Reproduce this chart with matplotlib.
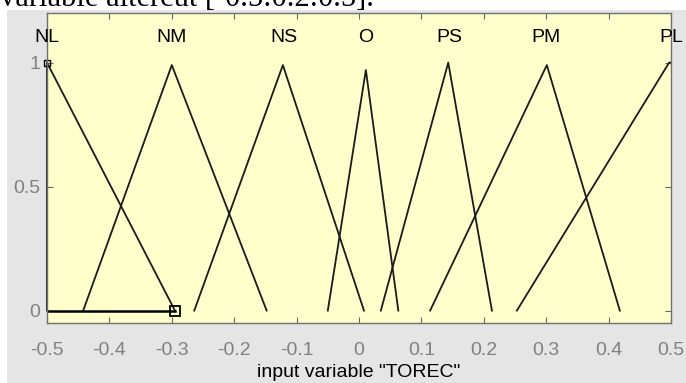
import matplotlib.pyplot as plt
from matplotlib.patches import Rectangle

# membership functions of input variable "TOREC" (triangles)
mf_names = ['NL', 'NM', 'NS', 'O', 'PS', 'PM', 'PL']
mf_x = [
    [-0.5, -0.5, -0.295],
    [-0.442, -0.300, -0.148],
    [-0.264, -0.122, 0.008],
    [-0.050, 0.011, 0.063],
    [0.035, 0.143, 0.213],
    [0.114, 0.301, 0.418],
    [0.253, 0.497, 0.5],
]
mf_y = [
    [0, 1, 0],
    [0, 0.99, 0],
    [0, 0.99, 0],
    [0, 0.97, 0],
    [0, 1, 0],
    [0, 0.99, 0],
    [0, 1, 1],
]
# peak positions used for the labels above the curves
label_x = [-0.5, -0.3, -0.12, 0.01, 0.145, 0.3, 0.5]

x_ticks = [-0.5, -0.4, -0.3, -0.2, -0.1, 0, 0.1, 0.2, 0.3, 0.4, 0.5]
x_ticklabels = ['-0.5', '-0.4', '-0.3', '-0.2', '-0.1', '0', '0.1', '0.2', '0.3', '0.4', '0.5']
y_ticks = [0, 0.5, 1]
y_ticklabels = ['0', '0.5', '1']

plt.rcParams['font.family'] = ['Liberation Sans', 'DejaVu Sans']

fig = plt.figure(figsize=(6.86, 3.83), dpi=100)
fig.patch.set_facecolor('white')

# grey GUI panel behind the axes
fig.add_artist(Rectangle((7 / 686, 0), 1 - 7 / 686, (383 - 10) / 383,
                         transform=fig.transFigure, facecolor='#e5e5e5',
                         edgecolor='none', zorder=0))

# caption of the document, cut off at the top (as in the source image)
fig.text(0.0, (383 - 6) / 383, 'variable altercut [-0.5:0.2:0.5].',
         family='Liberation Serif', fontsize=22, va='baseline', ha='left')

ax = fig.add_axes([47 / 686, 60 / 383, 624 / 686, 310 / 383])
ax.set_facecolor('#ffffcc')

for name, xs, ys, lx in zip(mf_names, mf_x, mf_y, label_x):
    ax.plot(xs, ys, color='#1a1a1a', lw=1.3, clip_on=False)
    ax.text(lx, 1.1, name, ha='center', va='center', fontsize=14, color='black')

# selected MF (NL): baseline and handles
ax.plot([mf_x[0][0], mf_x[0][2]], [0, 0], color='black', lw=1.8)
ax.plot([mf_x[0][2]], [0], marker='s', ms=7, mfc='none', mec='black', mew=1.3, clip_on=False)
ax.plot([mf_x[0][1]], [1], marker='s', ms=4, mfc='none', mec='black', mew=1, clip_on=False)

ax.set_xlim(-0.5, 0.5)
ax.set_ylim(-0.05, 1.2)
ax.set_xticks(x_ticks)
ax.set_xticklabels(x_ticklabels)
ax.set_yticks(y_ticks)
ax.set_yticklabels(y_ticklabels)

ax.tick_params(direction='in', length=4, color='#666666', labelcolor='#808080',
               labelsize=14, top=True, right=True)
ax.tick_params(axis='x', pad=14)
ax.tick_params(axis='y', pad=5)
for s in ax.spines.values():
    s.set_color('#707070')
    s.set_linewidth(1)

ax.set_xlabel('input variable "TOREC"', fontsize=14, color='black', labelpad=3)

fig.savefig('out.png', dpi=100)
